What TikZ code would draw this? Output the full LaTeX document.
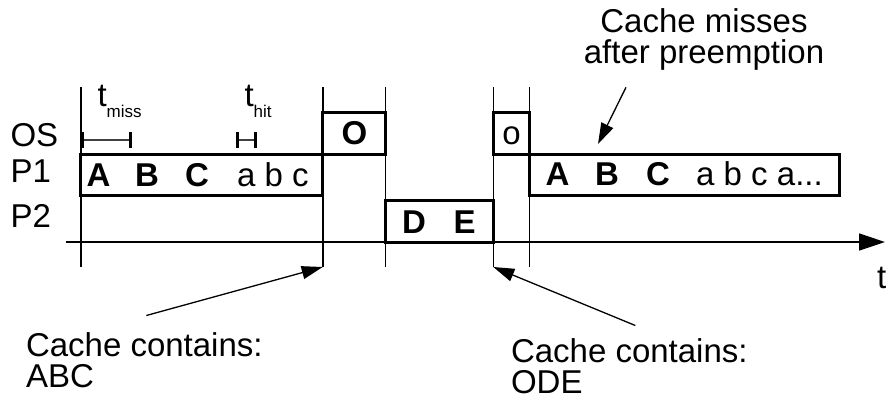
\documentclass[tikz,border=0pt]{standalone}
\usepackage{fontspec}
\setmainfont{Liberation Sans}
\usepackage{tikz}
\usetikzlibrary{arrows.meta,positioning,calc}

\begin{document}
\begin{tikzpicture}[x=1pt,y=-1pt,>={Triangle[length=21pt,width=13pt]},
    every node/.style={inner sep=0pt,outer sep=0pt,font=\fontsize{33}{31}\selectfont},
    slot/.style={draw,line width=3pt,anchor=north west},
    boldletter/.style={anchor=base,font=\fontsize{33}{31}\selectfont\bfseries},
    letter/.style={anchor=base},
    rowlbl/.style={anchor=base west},
    timeline/.style={line width=1.6pt},
    pointer/.style={->,line width=1.3pt},
    scalebar/.style={line width=1.3pt,black!75,{Bar[width=16pt,line width=3pt,black]}-{Bar[width=16pt,line width=3pt,black]}}]
  \useasboundingbox (0,0) rectangle (888,400);

  % switch points
  \coordinate (endABC) at (322.7,267);
  \coordinate (endODE) at (493.3,267);
  \draw[timeline] (80.7,87) -- (80.7,267);
  \draw[timeline] (322.7,87) -- (endABC);
  \draw[timeline] (385.3,87) -- (385.3,267);
  \draw[timeline] (493.3,87) -- (endODE);
  \draw[timeline] (529.3,87) -- (529.3,267);

  % time axis
  \draw[timeline,-{Triangle[length=26pt,width=17pt]}] (65.7,242) -- (885,242);
  \node[rowlbl] (taxis) at (877,288) {t};

  % rows
  \node[rowlbl] (os) at (10.5,146) {OS};
  \node[rowlbl] (p1) at (10.5,182) {P1};
  \node[rowlbl] (p2) at (10.5,227) {P2};

  % execution slots
  \node[slot,minimum width=241.9pt,minimum height=41pt] (runA) at (80.7,154) {};
  \node[slot,minimum width=62.6pt,minimum height=41.7pt] (osA) at (322.7,112.3) {};
  \node[slot,minimum width=108pt,minimum height=41.6pt] (runB) at (385.3,200.7) {};
  \node[slot,minimum width=36pt,minimum height=41.7pt] (osB) at (493.3,112.3) {};
  \node[slot,minimum width=310pt,minimum height=41pt] (runA2) at (529.3,154) {};

  \node[boldletter] (a1) at (98.5,186) {A};
  \node[boldletter] (b1) at (147,186) {B};
  \node[boldletter] (c1) at (197,186) {C};
  \node[letter] (abc1) at (273,186) {a b c};
  \node[boldletter] (o1) at (354.5,144) {O};
  \node[letter] (o2) at (511.5,144) {o};
  \node[boldletter] (d2) at (414,233) {D};
  \node[boldletter] (e2) at (464.5,233) {E};
  \node[boldletter] (a3) at (557.5,185) {A};
  \node[boldletter] (b3) at (607,185) {B};
  \node[boldletter] (c3) at (658,185) {C};
  \node[letter] (abc3) at (759.5,185) {a b c a...};

  % access times
  \node[rowlbl] (tmiss) at (97.5,106) {t\raisebox{-11pt}{\fontsize{17}{17}\selectfont miss}};
  \node[rowlbl] (thit) at (244.5,106) {t\raisebox{-11pt}{\fontsize{17}{17}\selectfont hit}};
  \draw[scalebar] (80.7,140) -- (131.7,140);
  \draw[scalebar] (235.7,140) -- (256.7,140);

  % notes
  \node[anchor=north,align=center] (missnote) at (704,8.5) {Cache misses\\after preemption};
  \coordinate (missB) at (598,144);
  \draw[pointer] ([xshift=-78pt,yshift=-17pt]missnote.south) -- (missB);
  \node[anchor=north west,align=left] (cacheABC) at (26,332.5) {Cache contains:\\ABC};
  \draw[pointer] ([xshift=2pt,yshift=17pt]cacheABC.north) -- (endABC);
  \node[anchor=north west,align=left] (cacheODE) at (511,338.5) {Cache contains:\\ODE};
  \draw[pointer] ([xshift=6pt,yshift=13pt]cacheODE.north) -- (endODE);
\end{tikzpicture}
\end{document}
